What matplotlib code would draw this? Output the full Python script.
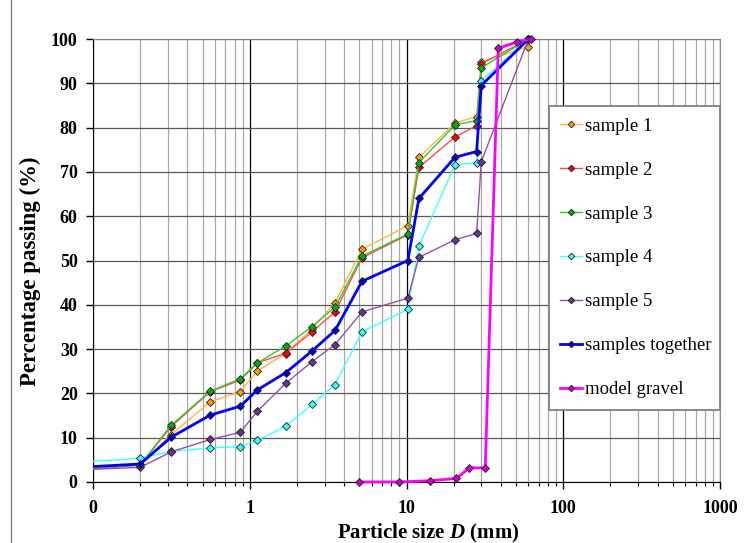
import matplotlib
matplotlib.use("Agg")
import matplotlib.pyplot as plt
import matplotlib.ticker as mticker
from matplotlib.patches import Rectangle
from matplotlib.lines import Line2D

# ── Data ────────────────────────────────────────────────────
sieve_mm = [0.063, 0.2, 0.315, 0.56, 0.87, 1.12, 1.7, 2.5, 3.5, 5.2,
            10.2, 12, 20.4, 28, 30, 60]

sample_1 = [2.4, 3.9, 10.7, 18.1, 20.4, 25.1, 29.0, 34.6, 40.5, 52.5,
            57.9, 73.3, 81.0, 82.5, 94.8, 98.3]
sample_2 = [2.35, 3.8, 12.5, 20.4, 23.0, 26.9, 29.1, 33.9, 38.4, 50.6,
            55.8, 71.0, 77.9, 80.4, 94.4, 100]
sample_3 = [2.4, 3.9, 12.8, 20.5, 23.3, 26.9, 30.7, 35.1, 39.5, 51.0,
            56.0, 72.1, 80.6, 81.6, 93.5, 100]
sample_4 = [4.2, 5.35, 6.9, 7.7, 8.0, 9.4, 12.6, 17.5, 22.0, 33.9,
            39.0, 53.3, 71.6, 72.1, 90.6, 100]
sample_5 = [2.6, 3.3, 6.8, 9.6, 11.2, 16.0, 22.3, 27.2, 31.0, 38.4,
            41.5, 50.7, 54.7, 56.1, 72.3, 100]
together = [3.1, 4.06, 10.1, 15.1, 17.1, 20.8, 24.7, 29.6, 34.2, 45.3,
            50.0, 64.0, 73.3, 74.6, 89.5, 100]

gravel_mm = [5.0, 8.9, 14.2, 20.8, 25.2, 31.8, 38.5, 50.4, 62.5]
gravel = [0, 0, 0.3, 0.8, 3.2, 3.2, 97.9, 99.3, 100]

x_ticks = [0.1, 1, 10, 100, 1000]
x_tick_labels = ["0", "1", "10", "100", "1000"]

# (label, x, y, line colour, marker colour, line width)
series = [
    ("sample 1", sieve_mm, sample_1, "#FFB347", "#FF9900", 1.0),
    ("sample 2", sieve_mm, sample_2, "#FF4A4A", "#FF0000", 1.0),
    ("sample 3", sieve_mm, sample_3, "#2ECC2E", "#00B000", 1.0),
    ("sample 4", sieve_mm, sample_4, "#40FFFF", "#33FFFF", 1.0),
    ("sample 5", sieve_mm, sample_5, "#9650A8", "#663399", 1.0),
    ("samples together", sieve_mm, together, "#0000FF", "#0000CC", 2.0),
    ("model gravel", gravel_mm, gravel, "#FF00FF", "#CC00CC", 2.0),
]

# ── Fonts ────────────────────────────────────────────────────
plt.rcParams["font.family"] = ["Liberation Serif", "DejaVu Serif"]
plt.rcParams["mathtext.fontset"] = "custom"
plt.rcParams["mathtext.rm"] = "Liberation Serif:bold"
plt.rcParams["mathtext.it"] = "Liberation Serif:italic:bold"

# ── Figure Layout ────────────────────────────────────────────
W, H = 751, 543
fig = plt.figure(figsize=(W / 100, H / 100), dpi=100)
ax = fig.add_axes([93 / W, 1 - 482 / H, 627 / W, 443 / H])

ax.set_xscale("log")
ax.set_xlim(0.1, 1000)
ax.set_ylim(0, 100)

# clip only the left side so edge markers stay whole
clip_rect = Rectangle((0, -0.1), 1.2, 1.3, transform=ax.transAxes,
                      facecolor="none", edgecolor="none")

for label, xs, ys, lc, mc, lw in series:
    line, = ax.plot(xs, ys, color=lc, linewidth=lw, marker="D",
                    markersize=4.2, markerfacecolor=mc,
                    markeredgecolor="#202020", markeredgewidth=0.6,
                    label=label, zorder=3)
    line.set_clip_path(clip_rect)

# ── Grid and axes ────────────────────────────────────────────
ax.set_axisbelow(True)
ax.xaxis.set_minor_locator(mticker.LogLocator(base=10, subs=range(2, 10)))
ax.xaxis.set_minor_formatter(mticker.NullFormatter())
ax.grid(which="major", axis="y", color="#5a5a5a", linewidth=0.9)
ax.grid(which="major", axis="x", color="#000000", linewidth=0.9)
ax.grid(which="minor", axis="x", color="#a8a8a8", linewidth=0.9)

ax.set_xticks(x_ticks)
ax.set_xticklabels(x_tick_labels)
ax.set_yticks(range(0, 101, 10))

ax.tick_params(axis="y", which="major", direction="out", length=5,
               width=1, labelsize=13, pad=6)
ax.tick_params(axis="x", which="major", direction="out", length=5,
               width=1, labelsize=13, pad=8)
ax.tick_params(axis="x", which="minor", direction="out", length=3,
               width=0.8)
for t in ax.get_xticklabels() + ax.get_yticklabels():
    t.set_fontweight("bold")

ax.spines["left"].set_color("black")
ax.spines["bottom"].set_color("black")
ax.spines["top"].set_color("#808080")
ax.spines["right"].set_color("#909090")

# ── Legend ───────────────────────────────────────────────────
leg = ax.legend(loc="upper left", bbox_to_anchor=(0.727, 0.849, 0.273, 0.0),
                mode="expand", fontsize=13.5, frameon=True, fancybox=False,
                edgecolor="#808080", framealpha=1, borderpad=0.62,
                labelspacing=1.43, handlelength=1.15, handletextpad=0.15,
                borderaxespad=0, markerscale=0.8)
leg.get_frame().set_linewidth(1.3)

# ── Axis titles ──────────────────────────────────────────────
fig.text(428 / W, 1 - 533 / H, r"Particle size $D$ (mm)",
         ha="center", va="center", fontsize=15, fontweight="bold")
fig.text(30 / W, 1 - 271 / H, "Percentage passing (%)", rotation=90,
         ha="center", va="center", fontsize=16.5, fontweight="bold")

# chart area border on the left
fig.add_artist(Line2D([11 / W, 11 / W], [0, 1], color="#808080",
                      linewidth=1.0, transform=fig.transFigure))

fig.savefig("out.png", dpi=100, facecolor="white")
